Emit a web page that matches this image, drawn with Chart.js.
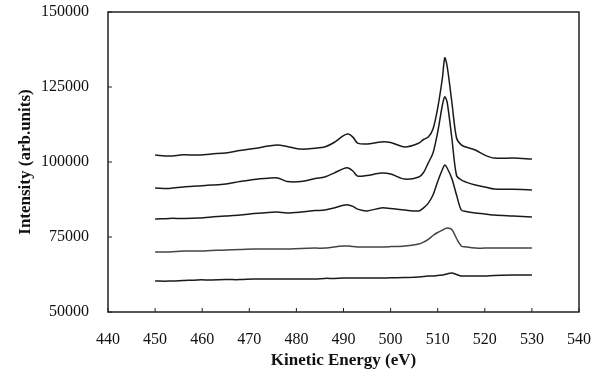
<!DOCTYPE html>
<html>
<head>
<meta charset="utf-8">
<script src="https://cdn.jsdelivr.net/npm/chart.js@4/dist/chart.umd.min.js"></script>
<style>
  html, body { margin: 0; padding: 0; background: #fff; }
  #wrap { width: 594px; height: 376px; }
</style>
</head>
<body>
<div id="wrap"><canvas id="myChart" width="594" height="376"></canvas></div>
<script>
// kinetic energy (eV) of the sampled points
const energy = [450, 453, 456, 459, 462, 465, 468, 471, 474, 476, 478, 481, 484, 486, 488, 490, 491, 492, 493, 495, 498, 500, 503, 506, 507, 508, 509, 510, 511, 511.5, 512, 513, 514, 515, 516, 518, 520, 522, 526, 530];

// spectra, top to bottom
const spec1 = [102300, 102000, 102400, 102300, 102700, 103000, 103800, 104500, 105300, 105700, 105200, 104300, 104600, 105000, 106500, 108800, 109300, 108300, 106300, 106000, 106700, 106500, 105000, 106300, 107500, 108300, 111000, 118000, 128000, 134700, 132000, 120000, 108000, 105700, 105000, 104000, 102300, 101300, 101300, 101000];
const spec2 = [91300, 91200, 91700, 92000, 92300, 92700, 93500, 94200, 94600, 94700, 93500, 93500, 94500, 95000, 96300, 97800, 98000, 97000, 95300, 95500, 96300, 96000, 94300, 95000, 96500, 99700, 103000, 110000, 119000, 121700, 120000, 108000, 95500, 94000, 93300, 92300, 91700, 91000, 90900, 90700];
const spec3 = [81000, 81200, 81200, 81300, 81700, 82000, 82300, 82800, 83200, 83300, 83000, 83300, 83800, 84000, 84700, 85600, 85700, 85200, 84300, 83700, 84700, 84500, 84000, 83700, 84700, 86300, 89000, 93500, 97500, 99000, 98000, 94500, 89000, 84000, 83500, 83000, 82700, 82300, 82000, 81700];
const spec4 = [70000, 70000, 70300, 70300, 70500, 70700, 70800, 71000, 71000, 71000, 71000, 71200, 71300, 71300, 71700, 72000, 72000, 71800, 71700, 71700, 71700, 71800, 72000, 72700, 73300, 74200, 75500, 76500, 77300, 77700, 78000, 77500, 74500, 72000, 71700, 71300, 71300, 71300, 71300, 71300];
const spec5 = [60300, 60300, 60500, 60700, 60700, 60800, 60800, 61000, 61000, 61000, 61000, 61000, 61000, 61200, 61200, 61300, 61300, 61300, 61300, 61300, 61300, 61400, 61500, 61700, 61800, 62000, 62000, 62200, 62300, 62500, 62700, 63000, 62500, 62000, 62000, 62000, 62000, 62200, 62300, 62300];

const series = [spec1, spec2, spec3, spec4, spec5];

const serif = "'Liberation Serif', 'DejaVu Serif', serif";

// box round the plot and short inward tick marks
const frame = {
  id: 'frame',
  afterDatasetsDraw(chart) {
    const ctx = chart.ctx;
    const a = chart.chartArea;
    ctx.save();
    ctx.strokeStyle = '#222';
    ctx.lineWidth = 1.5;
    ctx.strokeRect(a.left, a.top, a.right - a.left, a.bottom - a.top);
    ctx.lineWidth = 1;
    ctx.beginPath();
    chart.scales.x.ticks.forEach(t => {
      const px = chart.scales.x.getPixelForValue(t.value);
      ctx.moveTo(px, a.bottom);
      ctx.lineTo(px, a.bottom - 4);
    });
    chart.scales.y.ticks.forEach(t => {
      const py = chart.scales.y.getPixelForValue(t.value);
      ctx.moveTo(a.left, py);
      ctx.lineTo(a.left + 4, py);
    });
    ctx.stroke();
    ctx.restore();
  }
};

const ctx = document.getElementById('myChart').getContext('2d');
const myChart = new Chart(ctx, {
  type: 'line',
  data: {
    datasets: series.map((s, i) => ({
      label: 'spectrum ' + (i + 1),
      data: energy.map((e, j) => ({x: e, y: s[j]})),
      borderColor: i === 3 ? '#444' : '#1a1a1a',
      borderWidth: 1.5,
      pointRadius: 0,
      fill: false,
      tension: 0.3
    }))
  },
  options: {
    responsive: false,
    animation: false,
    layout: { padding: { left: 15, right: 15, top: 12, bottom: 5 } },
    plugins: {
      legend: { display: false },
      tooltip: { enabled: false }
    },
    scales: {
      x: {
        type: 'linear',
        min: 440,
        max: 540,
        ticks: { stepSize: 10, color: '#111', padding: 18, font: { family: serif, size: 16 } },
        grid: { display: false, drawTicks: false },
        border: { display: false },
        title: { display: true, text: 'Kinetic Energy (eV)', color: '#111', padding: 0, font: { family: serif, size: 17, weight: 'bold' } },
        afterFit(scale) {
          scale.height = 59;
          scale.paddingLeft = 0;
          scale.paddingRight = 0;
        }
      },
      y: {
        min: 50000,
        max: 150000,
        ticks: {
          stepSize: 25000, color: '#111', padding: 19, font: { family: serif, size: 16 },
          callback: v => String(v)
        },
        grid: { display: false, drawTicks: false },
        border: { display: false },
        title: { display: true, text: 'Intensity (arb.units)', color: '#111', padding: 0, font: { family: serif, size: 17, weight: 'bold' } },
        afterFit(scale) {
          scale.width = 93;
          scale.paddingTop = 0;
          scale.paddingBottom = 0;
        }
      }
    }
  },
  plugins: [frame]
});
</script>
</body>
</html>
